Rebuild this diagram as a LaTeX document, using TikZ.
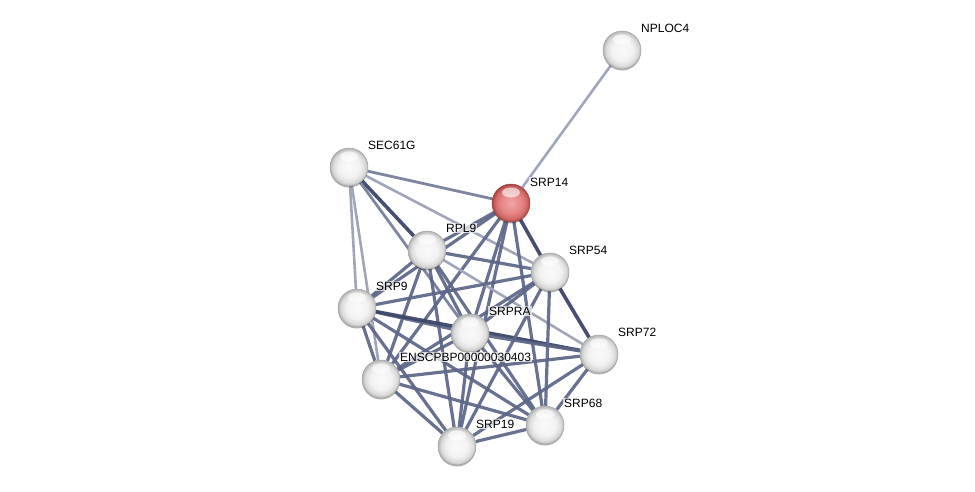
\documentclass[tikz,border=0pt]{standalone}
\usepackage{fontspec}
\setmainfont{Liberation Sans}
\usetikzlibrary{backgrounds,shadows}
\definecolor{edark}{HTML}{3C4668}
\definecolor{emid}{HTML}{5C6587}
\definecolor{elight}{HTML}{A0A5BA}
\definecolor{elight2}{HTML}{7E859F}
\definecolor{rc0}{HTML}{F2A5A5}
\definecolor{rc1}{HTML}{E58585}
\definecolor{rc2}{HTML}{D26868}
\definecolor{rc3}{HTML}{B44C4C}
\definecolor{rc4}{HTML}{A04444}
\pgfdeclareradialshading{greyball}{\pgfpoint{0bp}{0bp}}{color(0bp)=(gray!4); color(14bp)=(gray!10); color(21bp)=(gray!28); color(24bp)=(gray!50); color(25bp)=(gray!62); color(50bp)=(gray!62)}
\pgfdeclareradialshading{redball}{\pgfpoint{0bp}{0bp}}{color(0bp)=(rc0); color(14bp)=(rc1); color(21bp)=(rc2); color(24bp)=(rc3); color(25bp)=(rc4); color(50bp)=(rc4)}
\tikzset{
  ballnode/.style={circle, minimum size=38pt, inner sep=0pt, line width=0.5pt,
    drop shadow={shadow xshift=0pt, shadow yshift=-1.5pt, opacity=0.3, fill=black},
    path picture={\fill[white,opacity=0.6] ([yshift=10.5pt]path picture bounding box.center) ellipse (9pt and 5pt);}},
  greynode/.style={ballnode, shading=greyball, draw=gray!70},
  rednode/.style={ballnode, shading=redball, draw=rc4},
  lbl/.style={anchor=west, font=\fontsize{12}{14}\selectfont, text height=8.6pt, text depth=0pt,
    inner sep=1pt, fill=white, fill opacity=0.7, text opacity=1},
  edk/.style={draw=edark, line width=3.6pt, draw opacity=0.95},
  emd/.style={draw=emid, line width=3.2pt, draw opacity=0.92},
  elt/.style={draw=elight, line width=2.6pt},
  elm/.style={draw=elight2, line width=2.8pt},
}
\begin{document}
\begin{tikzpicture}[x=1pt,y=-1pt]
\useasboundingbox (0,0) rectangle (975,491);
% nodes
\node[greynode] (nploc4) at (622,50) {};
\node[greynode] (sec61g) at (349,167) {};
\node[rednode]  (srp14)  at (511,203) {};
\node[greynode] (rpl9)   at (427,250) {};
\node[greynode] (srp54)  at (550,272) {};
\node[greynode] (srp9)   at (357,308) {};
\node[greynode] (srpra)  at (470,333) {};
\node[greynode] (srp72)  at (599,354) {};
\node[greynode] (ens)    at (381,379) {};
\node[greynode] (srp68)  at (545,425) {};
\node[greynode] (srp19)  at (457,446) {};
% labels
\node[lbl] (l-nploc4) at (640,28) {NPLOC4};
\node[lbl] (l-sec61g) at (367,145) {SEC61G};
\node[lbl] (l-srp14)  at (529,182) {SRP14};
\node[lbl] (l-rpl9)   at (445,228) {RPL9};
\node[lbl] (l-srp54)  at (568,250) {SRP54};
\node[lbl] (l-srp9)   at (375,286) {SRP9};
\node[lbl] (l-srpra)  at (488,311) {SRPRA};
\node[lbl] (l-srp72)  at (617,332) {SRP72};
\node[lbl] (l-ens)    at (399,357) {ENSCPBP00000030403};
\node[lbl] (l-srp68)  at (563,403) {SRP68};
\node[lbl] (l-srp19)  at (475,424) {SRP19};
% edges
\begin{scope}[on background layer]
\draw[elt] (srp14) -- (nploc4);
\draw[elm] (sec61g) -- (srp14);
\draw[edk] (sec61g) -- (rpl9);
\draw[elt] (sec61g) -- (srp54);
\draw[elm] (sec61g) -- (srpra);
\draw[elt] (sec61g) -- (srp9);
\draw[elt] (sec61g) -- (ens);
\draw[emd] (srp14) -- (rpl9);
\draw[emd] (srp14) -- (srp9);
\draw[emd] (srp14) -- (ens);
\draw[emd] (srp14) -- (srpra);
\draw[emd] (srp14) -- (srp19);
\draw[emd] (srp14) -- (srp68);
\draw[edk] (srp14) -- (srp54);
\draw[emd] (rpl9) -- (srp54);
\draw[elt] (rpl9) -- (srp72);
\draw[emd] (rpl9) -- (srp9);
\draw[emd] (rpl9) -- (ens);
\draw[emd] (rpl9) -- (srpra);
\draw[emd] (rpl9) -- (srp19);
\draw[emd] (rpl9) -- (srp68);
\draw[emd] (srp9) -- (srp54);
\draw[emd] (srp9) -- (srpra);
\draw[edk] (srp9) -- (srp72);
\draw[emd] (srp9) -- (srp68);
\draw[emd] (srp9) -- (srp19);
\draw[emd] (srp9) -- (ens);
\draw[emd] (srpra) -- (srp54);
\draw[emd] (srpra) -- (srp72);
\draw[emd] (srpra) -- (ens);
\draw[emd] (srpra) -- (srp19);
\draw[emd] (srpra) -- (srp68);
\draw[edk] (srp54) -- (srp72);
\draw[emd] (srp54) -- (srp68);
\draw[emd] (srp54) -- (srp19);
\draw[emd] (srp54) -- (ens);
\draw[emd] (srp72) -- (ens);
\draw[emd] (srp72) -- (srp68);
\draw[emd] (srp72) -- (srp19);
\draw[emd] (ens) -- (srp19);
\draw[emd] (ens) -- (srp68);
\draw[emd] (srp19) -- (srp68);
\end{scope}
\end{tikzpicture}
\end{document}
